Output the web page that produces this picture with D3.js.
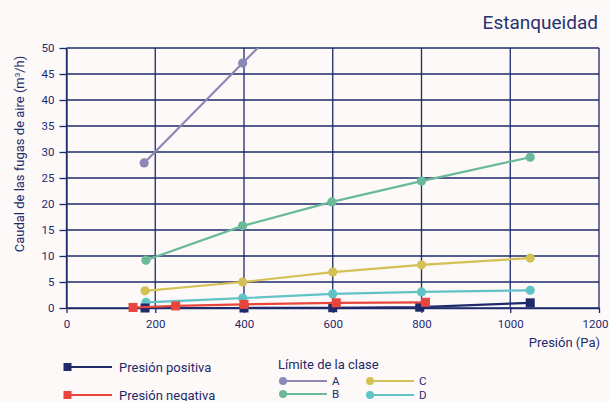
<!DOCTYPE html>
<html lang="es">
<head>
<meta charset="UTF-8">
<script src="https://d3js.org/d3.v7.min.js"></script>
<style>
  body { margin: 0; background: #fcf9f8; }
  svg { display: block; font-family: "Roboto", sans-serif; }
</style>
</head>
<body>
<div id="chart"></div>
<script>
const W = 609, H = 401;
const margin = { top: 48, right: 10, bottom: 93, left: 66.5 };

// data: [presión Pa, caudal m3/h]
const classA = [[175, 27.9], [397, 47.1], [600, 64.5]];
const classB = [[179, 9.2], [397, 15.8], [598, 20.4], [800, 24.4], [1045, 29.0]];
const classC = [[177, 3.3], [397, 5.0], [600, 6.9], [800, 8.3], [1045, 9.6]];
const classD = [[179, 1.1], [397, 1.9], [600, 2.7], [800, 3.1], [1045, 3.4]];
const presNegativa = [[150, 0.1], [246, 0.4], [400, 0.7], [608, 1.0], [809, 1.1]];
const presPositiva = [[177, 0.0], [400, 0.0], [600, 0.05], [796, 0.15], [1045, 1.0]];

const xTicks = [0, 200, 400, 600, 800, 1000, 1200];
const yTicks = [0, 5, 10, 15, 20, 25, 30, 35, 40, 45, 50];

const navy = "#1f2a6b";
const colors = { A: "#8c88b5", B: "#6ab99a", C: "#d4c155", D: "#62c3c6", neg: "#e8453c", pos: "#1f2a6b" };

const svg = d3.select("#chart").append("svg").attr("width", W).attr("height", H);

const x = d3.scaleLinear().domain([0, 1200]).range([margin.left, W - margin.right]);
const y = d3.scaleLinear().domain([0, 50]).range([H - margin.bottom, margin.top]);

// title
svg.append("text")
  .attr("x", 598).attr("y", 29)
  .attr("text-anchor", "end")
  .style("font-size", "19px")
  .style("fill", "#2a3170")
  .text("Estanqueidad");

// grid
const grid = svg.append("g").attr("stroke", navy).attr("stroke-width", 1.3);
grid.selectAll(".hg").data(yTicks).enter().append("line")
  .attr("x1", x(0)).attr("x2", x(1200))
  .attr("y1", d => y(d)).attr("y2", d => y(d));
grid.selectAll(".vg").data(xTicks).enter().append("line")
  .attr("x1", d => x(d)).attr("x2", d => x(d))
  .attr("y1", y(50)).attr("y2", y(0));

// axes
const xAxis = svg.append("g")
  .attr("transform", `translate(0,${y(0)})`)
  .call(d3.axisBottom(x).tickValues(xTicks).tickSize(5).tickSizeOuter(0).tickFormat(d3.format("d")));
const yAxis = svg.append("g")
  .attr("transform", `translate(${x(0)},0)`)
  .call(d3.axisLeft(y).tickValues(yTicks).tickSize(7).tickSizeOuter(0));
[xAxis, yAxis].forEach(a => {
  a.select(".domain").attr("stroke", navy).attr("stroke-width", 1.3);
  a.selectAll(".tick line").attr("stroke", navy).attr("stroke-width", 1.3);
  a.selectAll(".tick text").style("font-size", "11.5px").style("fill", navy).style("font-family", "Roboto, sans-serif");
});
xAxis.selectAll(".tick text").attr("dy", "1em");
// keep the last label inside the window, as in the reference
xAxis.selectAll(".tick text").filter(d => d === 1200).attr("dx", -4);
yAxis.selectAll(".tick text").attr("x", -12);

// axis titles
svg.append("text")
  .attr("x", 600).attr("y", 347)
  .attr("text-anchor", "end")
  .style("font-size", "13px").style("fill", navy)
  .text("Presión (Pa)");

const yl = svg.append("text")
  .attr("transform", `translate(24,154) rotate(-90)`)
  .attr("text-anchor", "middle")
  .style("font-size", "13px").style("fill", navy);
yl.append("tspan").text("Caudal de las fugas de aire  (m");
yl.append("tspan").attr("dy", -4).style("font-size", "8px").text("3");
yl.append("tspan").attr("dy", 4).text("/h)");

// clip for series
svg.append("clipPath").attr("id", "clip").append("rect")
  .attr("x", x(0)).attr("y", y(50)).attr("width", x(1200) - x(0)).attr("height", y(0) - y(50) + 10);

const line = d3.line().x(d => x(d[0])).y(d => y(d[1]));
const plot = svg.append("g").attr("clip-path", "url(#clip)");

function drawSeries(data, color, shape) {
  const g = plot.append("g");
  g.append("path").datum(data).attr("d", line)
    .attr("fill", "none").attr("stroke", color).attr("stroke-width", 2.2);
  if (shape === "circle") {
    g.selectAll("circle").data(data).enter().append("circle")
      .attr("cx", d => x(d[0])).attr("cy", d => y(d[1])).attr("r", 4.6)
      .attr("fill", color);
  } else {
    g.selectAll("rect").data(data).enter().append("rect")
      .attr("x", d => x(d[0]) - 4.5).attr("y", d => y(d[1]) - 4.5)
      .attr("width", 9).attr("height", 9).attr("fill", color);
  }
}
drawSeries(classA, colors.A, "circle");
drawSeries(classB, colors.B, "circle");
drawSeries(classC, colors.C, "circle");
drawSeries(classD, colors.D, "circle");
drawSeries(presPositiva, colors.pos, "square");
drawSeries(presNegativa, colors.neg, "square");

// legend
const legend = svg.append("g").style("font-size", "13px").style("fill", navy);
function legSquare(yy, color, label) {
  legend.append("line").attr("x1", 66).attr("x2", 112).attr("y1", yy).attr("y2", yy)
    .attr("stroke", color).attr("stroke-width", 2.2);
  legend.append("rect").attr("x", 63.5).attr("y", yy - 4).attr("width", 8).attr("height", 8).attr("fill", color);
  legend.append("text").attr("x", 119).attr("y", yy + 4.5).text(label);
}
legSquare(367, colors.pos, "Presión positiva");
legSquare(395, colors.neg, "Presión negativa");

legend.append("text").attr("x", 278).attr("y", 369).text("Límite de la clase");
function legCircle(xx, yy, color, label) {
  legend.append("line").attr("x1", xx).attr("x2", xx + 44).attr("y1", yy).attr("y2", yy)
    .attr("stroke", color).attr("stroke-width", 2.2);
  legend.append("circle").attr("cx", xx).attr("cy", yy).attr("r", 4).attr("fill", color);
  legend.append("text").attr("x", xx + 49).attr("y", yy + 4).style("font-size", "11.5px").text(label);
}
legCircle(283, 381, colors.A, "A");
legCircle(283, 394, colors.B, "B");
legCircle(370, 381, colors.C, "C");
legCircle(370, 395, colors.D, "D");
</script>
</body>
</html>
